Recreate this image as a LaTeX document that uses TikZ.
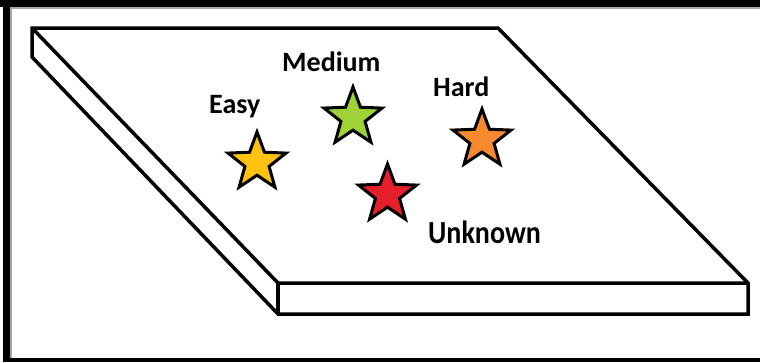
\documentclass[tikz,border=0pt]{standalone}
\usepackage{fontspec}
\setmainfont{Carlito}
\usetikzlibrary{shapes.geometric}
\definecolor{easyc}{HTML}{FFC20E}
\definecolor{medc}{HTML}{9ED236}
\definecolor{hardc}{HTML}{F68A2C}
\definecolor{unkc}{HTML}{E5202A}
\begin{document}
\begin{tikzpicture}[x=1pt,y=-1pt,
  slab/.style={line width=3.5pt, line join=miter},
  starnode/.style={star, star points=5, star point ratio=2.4, minimum size=61pt, inner sep=0pt, draw=black, line width=3pt, line join=miter},
  lbl/.style={font=\bfseries\fontsize{28}{30}\selectfont, anchor=base west, inner sep=0pt}]
\useasboundingbox (0,0) rectangle (760,362);
\fill[white] (0,0) rectangle (760,362);
% frame
\fill[black] (0,0) rectangle (760,7);
\fill[gray!70] (10,7) rectangle (760,9);
\fill[black] (3,0) rectangle (10,362);
\fill[gray!70] (10,7) rectangle (12,358);
\fill[black] (3,358) rectangle (760,362);
% slab corners
\coordinate (bl) at (32,28);
\coordinate (br) at (498,28);
\coordinate (fr) at (748,283);
\coordinate (fl) at (278,283);
\coordinate (blb) at (32,57);
\coordinate (flb) at (278,314);
\coordinate (frb) at (748,314);
\draw[slab, fill=white] (bl) -- (br) -- (fr) -- (frb) -- (flb) -- (blb) -- cycle;
\draw[slab] (bl) -- (fl) -- (fr);
\draw[slab] (fl) -- (flb);
% stars
\node[starnode, fill=easyc] (easy) at (257,162.5) {};
\node[starnode, fill=medc] (medium) at (353,117.5) {};
\node[starnode, fill=hardc] (hard) at (482,139.5) {};
\node[starnode, fill=unkc] (unknown) at (387.5,194.5) {};
% labels
\node[lbl] (leasy) at (209,113) {Easy};
\node[lbl] (lmed) at (282,71) {Medium};
\node[lbl] (lhard) at (433,96) {Hard};
\node[lbl, yscale=1.15] (lunk) at (428,243) {Unknown};
\end{tikzpicture}
\end{document}
